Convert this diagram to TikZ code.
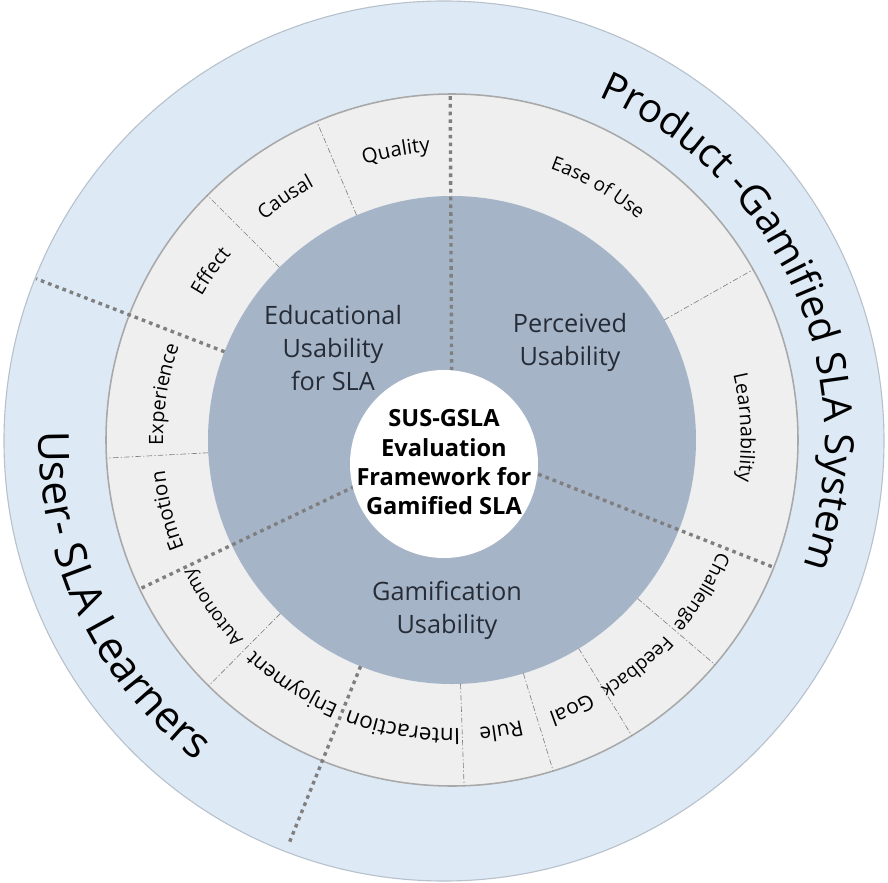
\documentclass[tikz,border=0pt]{standalone}
\usepackage{fontspec}
\setmainfont{Open Sans}
\usetikzlibrary{decorations.text}
\definecolor{outerblue}{HTML}{DDEAF6}
\definecolor{outeredge}{HTML}{B8C2CC}
\definecolor{ringgray}{HTML}{EFEFEF}
\definecolor{ringedge}{HTML}{A8A8A8}
\definecolor{coreblue}{HTML}{A6B4C8}
\definecolor{dotgray}{HTML}{7F7F7F}
\definecolor{textdark}{HTML}{262C36}

\begin{document}
\begin{tikzpicture}[
  outerring/.style={fill=outerblue, draw=outeredge, line width=0.8pt},
  midring/.style={fill=ringgray, draw=ringedge, line width=1.1pt},
  thickdiv/.style={draw=dotgray, line width=2.4pt, dash pattern=on 2.6pt off 2.9pt},
  thindiv/.style={draw=gray, line width=0.45pt, dash pattern=on 4pt off 1.5pt on 1pt off 1.5pt},
  arctext/.style={decorate, decoration={text along path, text align=center}},
  corelabel/.style={font=\fontsize{18}{23.5}\selectfont, text=textdark, align=center},
  hublabel/.style={font=\bfseries\fontsize{16.8}{20.8}\selectfont, align=center}
]
  \useasboundingbox (-11.1,-11.025) rectangle (11.1,11.025);

  % outer ring
  \draw[outerring] (0,0) circle (11);

  \begin{scope}[shift={(0.2,0.025)}]
    \draw[midring] (0,0) circle (8.65);
    \fill[coreblue] (0,0) circle (6.1);

    % segment borders
    \foreach \a in {29.5,113,135,183,225.3,272,287,301.3,319.5}
      \draw[thindiv] (\a:6.1) -- (\a:8.65);

    % main borders
    \foreach \a in {90.3,-21.6,205.5}
      \draw[thickdiv] (0,0) -- (\a:8.65);
    \draw[thickdiv] (158.8:6.1) -- (158.8:11.15);
    \draw[thickdiv] (248:6.1) -- (248:10.83);

    % segment labels, along the ring
    \foreach \a/\s/\t in {101/14.5/Quality, 124.5/14/Causal, 145/14/Effect,
        171/14/Experience, 194/14.5/Emotion, 215/13/Autonomy, 236.8/14.5/Enjoyment,
        260.3/16/Interaction, 279.6/15/Rule, 294/15/Goal, 309.2/13.5/Feedback,
        328.6/13.5/Challenge, 2.5/14/Learnability, 60/13.5/Ease of Use}
      \path[arctext, decoration={text/.expanded={|\noexpand\fontsize{\s}{16}\noexpand\selectfont|\t}}]
        (\a+40:7.22) arc[start angle=\a+40, end angle=\a-40, radius=7.22];

    % outer label, product side
    \path[arctext, decoration={text={|\fontsize{28.5}{31}\selectfont|Product -Gamified SLA System}}]
      (73.6:9.33) arc[start angle=73.6, end angle=-26.4, radius=9.33];
  \end{scope}

  \fill[white] (0,-0.575) circle (2.35);
  \node[hublabel] (hub) at (0,-0.53) {SUS-GSLA\\Evaluation\\Framework for\\Gamified SLA};

  \node[corelabel] (edu) at (-2.775,2.325) {Educational\\Usability\\for SLA};
  \node[corelabel] (per) at (3.15,2.475) {Perceived\\Usability};
  \node[corelabel] (gam) at (0.075,-4.225) {Gamification\\Usability};

  % outer label, user side
  \path[arctext, decoration={text={|\fontsize{30.5}{33}\selectfont|User- SLA Learners}}]
    (165.45:10.12) arc[start angle=165.45, end angle=245.45, radius=10.12];
\end{tikzpicture}
\end{document}
